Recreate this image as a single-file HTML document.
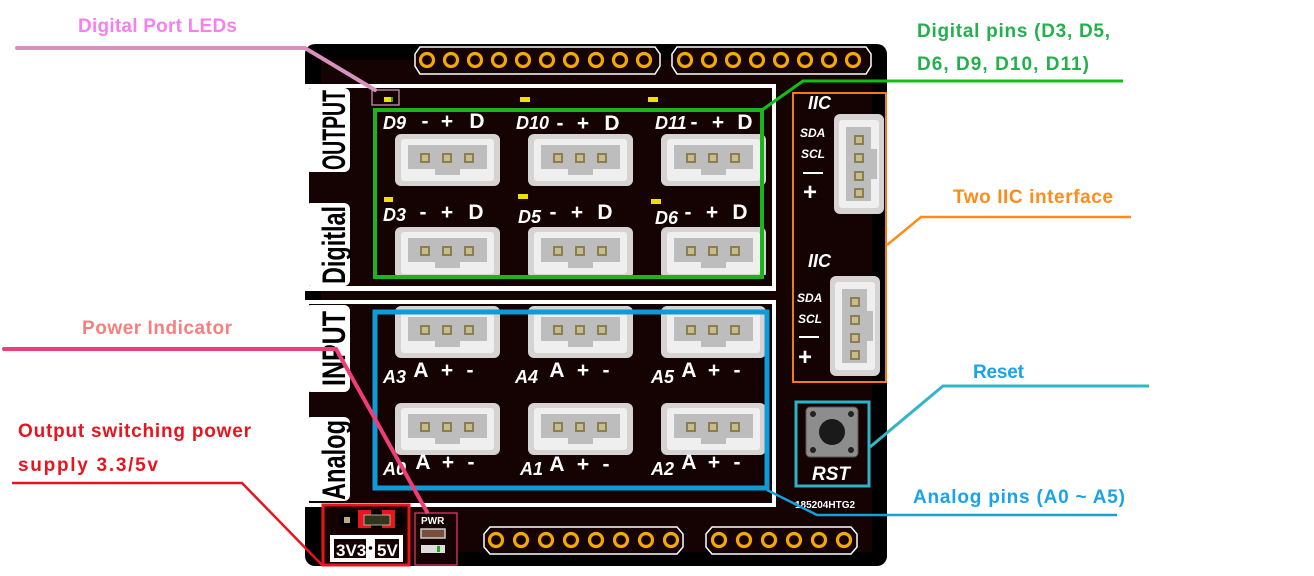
<!DOCTYPE html>
<html><head><meta charset="utf-8"><style>
html,body{margin:0;padding:0;background:#fff;width:1314px;height:576px;overflow:hidden}
svg{display:block}
.an{font-family:"Liberation Sans",sans-serif;font-weight:bold;font-size:19px}
.w{font-family:"Liberation Sans",sans-serif;font-weight:bold;fill:#fff}
.wi{font-family:"Liberation Sans",sans-serif;font-weight:bold;font-style:italic;fill:#fff}
.tab{font-family:"Liberation Sans",sans-serif;font-weight:bold;fill:#000;font-size:32px}
</style></head><body>
<svg width="1314" height="576" viewBox="0 0 1314 576" xmlns="http://www.w3.org/2000/svg">
<defs>
<g id="pin"><circle r="6.5" fill="none" stroke="#f5a800" stroke-width="3.2"/></g>
<g id="conn">
<rect x="0" y="0" width="105" height="52" rx="6" fill="#d6d3d3"/>
<rect x="6" y="5" width="93" height="42" rx="3" fill="#efefef"/>
<rect x="13" y="11" width="79" height="24" fill="#bdbdbd"/>
<rect x="40" y="35" width="25" height="6" fill="#bdbdbd"/>
<rect x="25" y="19" width="10" height="10" fill="#8a7e55"/><rect x="27" y="21" width="6" height="6" fill="#c9bd8c"/>
<rect x="47" y="19" width="10" height="10" fill="#8a7e55"/><rect x="49" y="21" width="6" height="6" fill="#c9bd8c"/>
<rect x="69" y="19" width="10" height="10" fill="#8a7e55"/><rect x="71" y="21" width="6" height="6" fill="#c9bd8c"/>
</g>
<g id="iic">
<rect x="0" y="0" width="50" height="100" rx="6" fill="#d6d3d3"/>
<rect x="5" y="6" width="40" height="88" rx="3" fill="#efefef"/>
<rect x="12" y="13" width="25" height="74" fill="#bdbdbd"/>
<rect x="37" y="35" width="6" height="30" fill="#bdbdbd"/>
<rect x="20" y="21" width="10" height="10" fill="#8a7e55"/><rect x="22" y="23" width="6" height="6" fill="#c9bd8c"/>
<rect x="20" y="39" width="10" height="10" fill="#8a7e55"/><rect x="22" y="41" width="6" height="6" fill="#c9bd8c"/>
<rect x="20" y="57" width="10" height="10" fill="#8a7e55"/><rect x="22" y="59" width="6" height="6" fill="#c9bd8c"/>
<rect x="20" y="74" width="10" height="10" fill="#8a7e55"/><rect x="22" y="76" width="6" height="6" fill="#c9bd8c"/>
</g>
</defs>

<!-- board -->
<rect x="305" y="44" width="582" height="522" rx="10" fill="#000"/>
<rect x="321" y="60" width="551" height="492" fill="#150202"/>

<!-- top headers -->
<path d="M415,54 L420,47 L655,47 L660,54 L660,66 L655,74 L420,74 L415,66 Z" fill="#150202" stroke="#fff" stroke-width="1.5"/>
<use href="#pin" x="427" y="60"/><use href="#pin" x="451" y="60"/><use href="#pin" x="475" y="60"/><use href="#pin" x="499" y="60"/><use href="#pin" x="523" y="60"/><use href="#pin" x="547" y="60"/><use href="#pin" x="571" y="60"/><use href="#pin" x="596" y="60"/><use href="#pin" x="620" y="60"/><use href="#pin" x="644" y="60"/>
<path d="M672,54 L677,47 L866,47 L871,54 L871,66 L866,74 L677,74 L672,66 Z" fill="#150202" stroke="#fff" stroke-width="1.5"/>
<use href="#pin" x="685" y="60"/><use href="#pin" x="709" y="60"/><use href="#pin" x="733" y="60"/><use href="#pin" x="757" y="60"/><use href="#pin" x="781" y="60"/><use href="#pin" x="805" y="60"/><use href="#pin" x="829" y="60"/><use href="#pin" x="853" y="60"/>

<!-- bottom headers -->
<path d="M484,534 L490,527 L677,527 L683,534 L683,547 L677,554 L490,554 L484,547 Z" fill="#150202" stroke="#fff" stroke-width="1.5"/>
<use href="#pin" x="496" y="540"/><use href="#pin" x="521" y="540"/><use href="#pin" x="546" y="540"/><use href="#pin" x="571" y="540"/><use href="#pin" x="596" y="540"/><use href="#pin" x="621" y="540"/><use href="#pin" x="646" y="540"/><use href="#pin" x="671" y="540"/>
<path d="M706,534 L712,527 L851,527 L857,534 L857,547 L851,554 L712,554 L706,547 Z" fill="#150202" stroke="#fff" stroke-width="1.5"/>
<use href="#pin" x="719" y="540"/><use href="#pin" x="744" y="540"/><use href="#pin" x="769" y="540"/><use href="#pin" x="794" y="540"/><use href="#pin" x="819" y="540"/><use href="#pin" x="844" y="540"/>

<!-- top frame -->
<rect x="307" y="86" width="467" height="203" fill="#150202" stroke="#fff" stroke-width="4"/>
<rect x="305" y="88" width="45" height="84" rx="6" fill="#fff"/>
<rect x="305" y="203" width="45" height="83" rx="6" fill="#fff"/>
<text class="tab" transform="translate(345,170) rotate(-90)" textLength="80" lengthAdjust="spacingAndGlyphs">OUTPUT</text>
<text class="tab" transform="translate(345,284) rotate(-90)" textLength="78" lengthAdjust="spacingAndGlyphs">Digitlal</text>

<!-- bottom frame -->
<rect x="307" y="302" width="467" height="203" fill="#150202" stroke="#fff" stroke-width="4"/>
<rect x="305" y="305" width="45" height="87" rx="6" fill="#fff"/>
<rect x="305" y="417" width="45" height="84" rx="6" fill="#fff"/>
<text class="tab" transform="translate(345,386) rotate(-90)" textLength="75" lengthAdjust="spacingAndGlyphs">INPUT</text>
<text class="tab" transform="translate(345,500) rotate(-90)" textLength="80" lengthAdjust="spacingAndGlyphs">Analog</text>

<!-- LEDs -->
<rect x="372" y="90" width="27" height="15" fill="none" stroke="#d59bc8" stroke-width="1.2"/>
<rect x="384" y="97" width="7" height="5" fill="#f0e000"/><rect x="391" y="97" width="2" height="5" fill="#2a2"/>
<rect x="520" y="97" width="10" height="5" fill="#f0e000"/>
<rect x="648" y="97" width="10" height="5" fill="#f0e000"/>
<rect x="384" y="197" width="9" height="5" fill="#f0e000"/>
<rect x="518" y="194" width="10" height="5" fill="#f0e000"/>
<rect x="651" y="199" width="10" height="5" fill="#f0e000"/>

<!-- digital connectors -->
<use href="#conn" x="395" y="134"/><use href="#conn" x="528" y="134"/><use href="#conn" x="661" y="134"/>
<use href="#conn" x="395" y="227"/><use href="#conn" x="528" y="227"/><use href="#conn" x="661" y="227"/>
<rect x="390" y="275" width="380" height="12" fill="#150202"/>
<line x1="305" y1="288" x2="774" y2="288" stroke="#fff" stroke-width="4"/>
<rect x="375" y="110" width="387" height="167" fill="none" stroke="#1db31d" stroke-width="4"/>

<g class="w" font-size="21" text-anchor="middle">
<text x="425" y="128">-</text><text x="447" y="128">+</text><text x="477" y="128">D</text>
<text x="560" y="130">-</text><text x="583" y="130">+</text><text x="612" y="130">D</text>
<text x="694" y="129">-</text><text x="718" y="129">+</text><text x="745" y="129">D</text>
<text x="423" y="219">-</text><text x="447" y="219">+</text><text x="476" y="219">D</text>
<text x="553" y="219">-</text><text x="577" y="219">+</text><text x="605" y="219">D</text>
<text x="688" y="219">-</text><text x="712" y="219">+</text><text x="740" y="219">D</text>
</g>
<text class="wi" x="383" y="129" font-size="18">D9</text>
<text class="wi" x="516" y="129" font-size="18">D10</text>
<text class="wi" x="655" y="129" font-size="18">D11</text>
<text class="wi" x="383" y="221" font-size="18">D3</text>
<text class="wi" x="518" y="223" font-size="18">D5</text>
<text class="wi" x="655" y="224" font-size="18">D6</text>

<!-- analog connectors -->
<use href="#conn" x="395" y="306"/><use href="#conn" x="528" y="306"/><use href="#conn" x="661" y="306"/>
<use href="#conn" x="395" y="403"/><use href="#conn" x="528" y="403"/><use href="#conn" x="661" y="403"/>
<rect x="375" y="312" width="392" height="176" fill="none" stroke="#0e9bd8" stroke-width="5"/>
<g class="w" font-size="21" text-anchor="middle">
<text x="421" y="377">A</text><text x="447" y="377">+</text><text x="470" y="377">-</text>
<text x="557" y="377">A</text><text x="583" y="377">+</text><text x="606" y="377">-</text>
<text x="689" y="377">A</text><text x="714" y="377">+</text><text x="737" y="377">-</text>
<text x="423" y="469">A</text><text x="448" y="469">+</text><text x="471" y="469">-</text>
<text x="557" y="471">A</text><text x="583" y="471">+</text><text x="606" y="471">-</text>
<text x="689" y="469">A</text><text x="714" y="469">+</text><text x="737" y="469">-</text>
</g>
<text class="wi" x="383" y="383" font-size="18">A3</text>
<text class="wi" x="515" y="383" font-size="18">A4</text>
<text class="wi" x="651" y="383" font-size="18">A5</text>
<text class="wi" x="383" y="475" font-size="18">A0</text>
<text class="wi" x="520" y="475" font-size="18">A1</text>
<text class="wi" x="651" y="475" font-size="18">A2</text>

<!-- IIC -->
<rect x="793" y="93" width="93" height="289" fill="none" stroke="#f07d14" stroke-width="2"/>
<use href="#iic" x="834" y="114"/><use href="#iic" x="830" y="276"/>
<text class="wi" x="808" y="109" font-size="18">IIC</text>
<text class="wi" x="800" y="137" font-size="12">SDA</text>
<text class="wi" x="801" y="158" font-size="12">SCL</text>
<rect x="803" y="172" width="20" height="2" fill="#fff"/>
<text class="w" x="803" y="200" font-size="24">+</text>
<text class="wi" x="808" y="267" font-size="18">IIC</text>
<text class="wi" x="797" y="302" font-size="12">SDA</text>
<text class="wi" x="798" y="323" font-size="12">SCL</text>
<rect x="799" y="336" width="20" height="2" fill="#fff"/>
<text class="w" x="798" y="365" font-size="24">+</text>

<!-- RST -->
<rect x="796" y="402" width="73" height="84" fill="none" stroke="#2eb3c6" stroke-width="3"/>
<rect x="806" y="407" width="52" height="50" rx="4" fill="#8d8d8d" stroke="#555" stroke-width="1"/>
<circle cx="813" cy="414" r="3" fill="#222"/><circle cx="851" cy="414" r="3" fill="#222"/>
<circle cx="813" cy="450" r="3" fill="#222"/><circle cx="851" cy="450" r="3" fill="#222"/>
<circle cx="832" cy="432" r="13" fill="#1a1a1a"/>
<text class="wi" x="812" y="480" font-size="19">RST</text>
<text class="w" x="795" y="508" font-size="10">185204HTG2</text>

<!-- power switch -->
<rect x="323" y="505" width="86" height="60" fill="#150202" stroke="#e8141e" stroke-width="3"/>
<rect x="339" y="512" width="66" height="16" rx="8" fill="#000"/>
<rect x="344" y="517" width="6" height="6" fill="#b8ad80"/>
<rect x="358" y="510" width="13" height="18" fill="#e8141e"/><rect x="382" y="510" width="13" height="18" fill="#e8141e"/>
<rect x="364" y="515" width="26" height="10" fill="#332" stroke="#b8ad80" stroke-width="1"/>
<rect x="330" y="535" width="73" height="27" fill="#fff"/>
<rect x="334" y="539" width="65" height="19" fill="#150202"/>
<text x="336" y="556" font-family="Liberation Sans,sans-serif" font-weight="bold" font-size="17" fill="#fff">3V3</text>
<rect x="366" y="539" width="9" height="19" fill="#fff"/><circle cx="370.5" cy="548" r="1.8" fill="#000"/>
<text x="377" y="556" font-family="Liberation Sans,sans-serif" font-weight="bold" font-size="17" fill="#fff">5V</text>

<rect x="415" y="513" width="42" height="52" fill="#150202" stroke="#f03c78" stroke-width="1.2"/>
<text class="w" x="421" y="524" font-size="10">PWR</text>
<rect x="421" y="529" width="24" height="9" fill="#7a4e3a" stroke="#ccc" stroke-width="1.5"/>
<rect x="421" y="545" width="24" height="8" fill="#ddd"/><rect x="437" y="546" width="3" height="6" fill="#2a2"/>

<!-- annotations -->
<text class="an" x="78" y="32" fill="#f77ff0" textLength="159">Digital Port LEDs</text>
<polyline points="17,48 305,48 375,90" fill="none" stroke="#d891bf" stroke-width="4" stroke-linecap="round"/>

<text class="an" x="917" y="37" fill="#22b14c" textLength="193">Digital pins (D3, D5,</text>
<text class="an" x="917" y="70" fill="#22b14c" textLength="172">D6, D9, D10, D11)</text>
<polyline points="1123,81 803,81 762,110" fill="none" stroke="#10c010" stroke-width="3"/>

<text class="an" x="953" y="203" fill="#ff8c1a" textLength="160">Two IIC interface</text>
<polyline points="1131,217 921,217 887,245" fill="none" stroke="#ff8c1a" stroke-width="2.5"/>

<text class="an" x="973" y="378" fill="#1aa3e8" textLength="51">Reset</text>
<polyline points="1149,386 943,386 870,447" fill="none" stroke="#35b5c3" stroke-width="3"/>

<text class="an" x="913" y="503" fill="#1aa3e8" textLength="212">Analog pins (A0 ~ A5)</text>
<polyline points="1117,515 817,515 767,490" fill="none" stroke="#1a9ed9" stroke-width="2.5"/>

<text class="an" x="82" y="334" fill="#f77f7f" textLength="150">Power Indicator</text>
<polyline points="4,349 336,349 427,512" fill="none" stroke="#f03c78" stroke-width="4" stroke-linecap="round"/>

<text class="an" x="18" y="437" fill="#e8141e" textLength="233">Output switching power</text>
<text class="an" x="18" y="471" fill="#e8141e" textLength="140">supply 3.3/5v</text>
<polyline points="12,483 242,483 322,565" fill="none" stroke="#e8141e" stroke-width="2.5"/>
</svg>
</body></html>
